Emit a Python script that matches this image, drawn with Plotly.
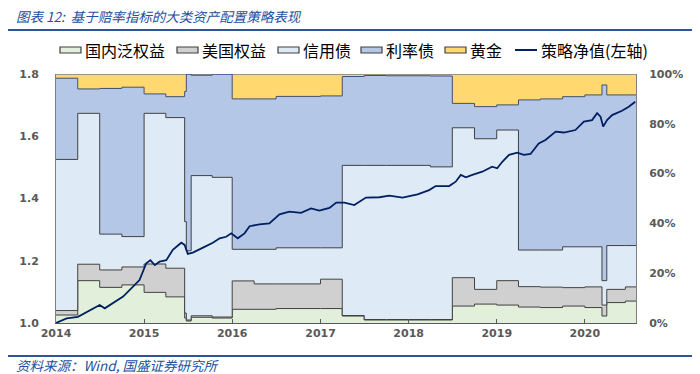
import plotly.graph_objects as go

# ---------------- data ----------------
alloc_dates = [
    "2014-01-01", "2014-04-01", "2014-07-01", "2014-10-01", "2015-01-01",
    "2015-04-01", "2015-06-18", "2015-06-25", "2015-07-15", "2015-10-10",
    "2016-01-01", "2016-04-01", "2016-07-01", "2017-01-01", "2017-04-01",
    "2017-07-01", "2017-10-01", "2018-04-01", "2018-07-01", "2018-10-01",
    "2019-01-01", "2019-04-01", "2019-07-01", "2019-10-01", "2020-01-01",
    "2020-03-12", "2020-04-01", "2020-06-17", "2020-07-31",
]
domestic_equity = [3.2, 17.0, 14.3, 15.3, 12.3, 10.5, 2.0, 0.8, 2.3, 2.0,
                   5.5, 5.5, 5.8, 5.8, 2.8, 1.2, 1.2, 1.2, 6.8, 7.6,
                   7.2, 6.4, 6.2, 6.8, 6.2, 2.8, 8.2, 8.8, 8.8]
us_equity = [1.8, 6.6, 7.0, 7.2, 11.4, 11.5, 2.0, 0.4, 0.6, 0.4,
             11.4, 10.2, 9.9, 11.8, 0.2, 0.2, 0.2, 0.2, 11.4, 5.9,
             9.8, 8.2, 8.2, 7.4, 8.3, 4.4, 5.3, 5.7, 5.7]
credit_bond = [60.7, 60.6, 14.4, 12.2, 60.5, 60.5, 36.7, 27.8, 56.3, 56.1,
               12.7, 13.9, 14.5, 12.6, 60.3, 61.9, 61.9, 61.3, 60.2, 60.5,
               60.5, 14.7, 14.9, 16.4, 16.1, 9.8, 17.6, 16.6, 16.6]
rate_bond = [32.6, 9.8, 58.5, 60.0, 7.8, 8.4, 52.3, 71.0, 40.3, 41.5,
             60.4, 60.4, 60.8, 61.0, 35.7, 36.1, 36.0, 36.5, 9.8, 12.9,
             10.1, 60.3, 60.7, 60.3, 61.0, 78.6, 60.5, 60.5, 60.5]
gold = [1.7, 6.0, 5.8, 5.3, 8.0, 9.1, 7.0, 0.0, 0.5, 0.0,
        10.0, 10.0, 9.0, 8.8, 1.0, 0.6, 0.7, 0.8, 11.8, 13.1,
        12.4, 10.4, 10.0, 9.1, 8.4, 4.4, 8.4, 8.4, 8.4]

nav_dates = [
    "2014-01-01", "2014-02-14", "2014-04-02", "2014-05-21", "2014-07-01",
    "2014-07-22", "2014-09-02", "2014-10-06", "2014-11-16", "2014-12-13",
    "2015-01-10", "2015-01-27", "2015-02-14", "2015-03-06", "2015-04-03",
    "2015-04-30", "2015-06-04", "2015-06-18", "2015-07-01", "2015-07-22",
    "2015-09-02", "2015-10-13", "2015-11-10", "2015-12-07", "2015-12-28",
    "2016-01-24", "2016-02-21", "2016-03-13", "2016-04-23", "2016-06-03",
    "2016-07-15", "2016-08-25", "2016-10-12", "2016-11-23", "2016-12-27",
    "2017-02-07", "2017-03-07", "2017-04-10", "2017-05-21", "2017-07-08",
    "2017-09-02", "2017-10-13", "2017-12-07", "2018-02-07", "2018-03-27",
    "2018-04-23", "2018-06-18", "2018-07-15", "2018-08-05", "2018-08-26",
    "2018-09-22", "2018-11-02", "2018-12-13", "2019-01-03", "2019-01-24",
    "2019-02-21", "2019-03-27", "2019-04-23", "2019-05-21", "2019-06-24",
    "2019-07-22", "2019-09-02", "2019-10-06", "2019-11-23", "2019-12-28",
    "2020-01-31", "2020-02-21", "2020-03-06", "2020-03-17", "2020-04-02",
    "2020-04-23", "2020-06-03", "2020-07-01", "2020-07-28",
]
nav_values = [
    1.000, 1.015, 1.020, 1.042, 1.058, 1.047, 1.068, 1.085, 1.117, 1.138,
    1.192, 1.202, 1.186, 1.197, 1.202, 1.235, 1.258, 1.251, 1.222, 1.226,
    1.242, 1.258, 1.272, 1.277, 1.288, 1.272, 1.288, 1.311, 1.317, 1.320,
    1.349, 1.358, 1.354, 1.368, 1.361, 1.370, 1.387, 1.387, 1.379, 1.403,
    1.404, 1.409, 1.403, 1.413, 1.427, 1.440, 1.440, 1.454, 1.476, 1.468,
    1.476, 1.486, 1.502, 1.497, 1.518, 1.540, 1.547, 1.540, 1.543, 1.577,
    1.588, 1.615, 1.612, 1.620, 1.647, 1.652, 1.674, 1.663, 1.631, 1.652,
    1.668, 1.682, 1.695, 1.711,
]

series_names = ["国内泛权益", "美国权益", "信用债", "利率债", "黄金"]
nav_name = "策略净值(左轴)"
year_ticks = ["2014-01-01", "2015-01-01", "2016-01-01", "2017-01-01",
              "2018-01-01", "2019-01-01", "2020-01-01"]
year_labels = ["2014", "2015", "2016", "2017", "2018", "2019", "2020"]
title_text = "图表 12:  基于赔率指标的大类资产配置策略表现"
source_text = "资料来源：Wind, 国盛证券研究所"

# ---------------- styles / layout geometry ----------------
# The page body has an 8px default margin, so the figure is drawn 8px smaller
# and every reference-pixel position is shifted by that offset.
OFF = 8
W, H = 700 - OFF, 374 - OFF
PL, PR, PT, PB = 56 - OFF, 636 - OFF, 74 - OFF, 323 - OFF   # plot area (figure px)
fill_colors = ["#E2EFDA", "#D0D0D0", "#DEEAF6", "#B4C7E7", "#FFD970"]
edge_colors = ["#404040", "#404040", "#404040", "#3F4F6F", "#2F4F8F"]
nav_color = "#002060"
blue_text = "#2350A0"
rule_color = "#2F5597"
tick_font = dict(family="DejaVu Sans", size=11, color="#595959", weight="bold")
# legend item positions (swatch start, swatch end) in reference pixels
legend_swatch_x = [(60, 81), (177, 198), (278, 299), (361, 382), (445, 466), (515, 537)]
legend_y = 50


def px(xr):
    """reference-pixel x -> paper coordinate"""
    return (xr - OFF - PL) / (PR - PL)


def py(yr):
    """reference-pixel y -> paper coordinate"""
    return (PB - (yr - OFF)) / (PB - PT)


fig = go.Figure()
for name, vals, fc, ec in zip(series_names,
                              [domestic_equity, us_equity, credit_bond, rate_bond, gold],
                              fill_colors, edge_colors):
    fig.add_trace(go.Scatter(
        x=alloc_dates, y=vals, name=name, stackgroup="alloc",
        mode="lines", line=dict(shape="hv", color=ec, width=1),
        fillcolor=fc, yaxis="y", hoverinfo="skip",
    ))

fig.add_trace(go.Scatter(
    x=nav_dates, y=nav_values, name=nav_name, mode="lines",
    line=dict(color=nav_color, width=1.8), yaxis="y2",
))

fig.update_layout(
    width=W, height=H,
    margin=dict(l=PL, r=W - PR, t=PT, b=H - PB, autoexpand=False),
    paper_bgcolor="white", plot_bgcolor="white",
    font=dict(family="Noto Sans CJK SC", color="#000000"),
    showlegend=False,
    xaxis=dict(
        type="date", range=["2014-01-01", "2020-07-31"],
        tickvals=year_ticks, ticktext=year_labels,
        ticks="inside", ticklen=4, tickcolor="#595959", tickwidth=1,
        showline=True, linecolor="#595959", linewidth=1,
        showgrid=False, zeroline=False, tickfont=tick_font,
    ),
    yaxis=dict(
        side="right", range=[0, 100], dtick=20, ticksuffix="%",
        showgrid=False, zeroline=False, showline=True,
        linecolor="#7F7F7F", linewidth=1, ticks="",
        tickfont=tick_font, ticklabelstandoff=10,
    ),
    yaxis2=dict(
        overlaying="y", side="left", range=[1.0, 1.8], dtick=0.2,
        tickformat=".1f", showgrid=False, zeroline=False, showline=True,
        linecolor="#7F7F7F", linewidth=1, ticks="",
        tickfont=tick_font, ticklabelstandoff=14,
    ),
)

# title as an annotation (kept inside the figure)
fig.add_annotation(
    text=title_text, xref="paper", yref="paper",
    x=px(14), y=py(16), xanchor="left", yanchor="middle", showarrow=False,
    font=dict(family="Noto Sans CJK SC", size=13.5, color=blue_text, style="italic"),
)

# legend drawn by hand to match the reference's single-row layout
for i, (name, (x0, x1)) in enumerate(zip(series_names + [nav_name], legend_swatch_x)):
    if i < len(series_names):
        fig.add_shape(type="rect", xref="paper", yref="paper",
                      x0=px(x0), x1=px(x1), y0=py(legend_y + 3), y1=py(legend_y - 3),
                      fillcolor=fill_colors[i], line=dict(color="#404040", width=1.2))
    else:
        fig.add_shape(type="line", xref="paper", yref="paper",
                      x0=px(x0), x1=px(x1), y0=py(legend_y), y1=py(legend_y),
                      line=dict(color=nav_color, width=2))
    fig.add_annotation(
        text=name, xref="paper", yref="paper", x=px(x1 + 2), y=py(legend_y),
        xanchor="left", yanchor="middle", showarrow=False,
        font=dict(family="Noto Sans CJK SC", size=16, color="#000000"),
    )

# decorative rules under the title and above the source note,
# drawn as thin filled annotation boxes spanning the page width
for yline in (30, 356):
    fig.add_annotation(
        text=" ", xref="paper", yref="paper",
        x=px(4), y=py(yline), xanchor="left", yanchor="middle",
        showarrow=False, width=696, height=2, bgcolor=rule_color,
        borderpad=0, borderwidth=0, font=dict(size=1, color=rule_color),
    )

fig.add_annotation(
    text=source_text, xref="paper", yref="paper",
    x=px(14), y=py(365), xanchor="left", yanchor="middle",
    showarrow=False,
    font=dict(family="Noto Sans CJK SC", size=13.5, color=blue_text, style="italic"),
)

fig.write_html("out.html", config={"displayModeBar": False})
